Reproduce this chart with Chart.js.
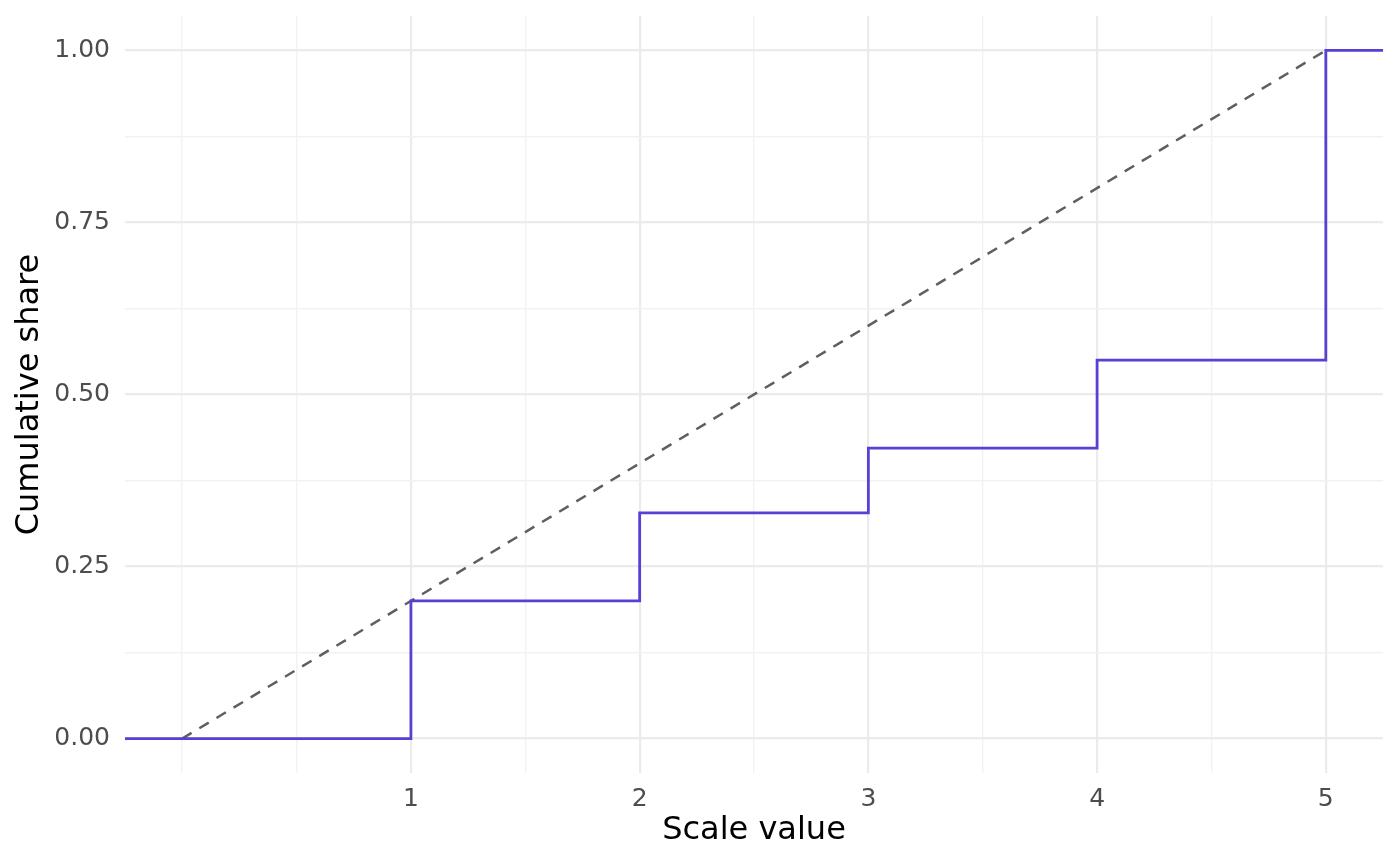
<!DOCTYPE html>
<html>
<head>
<meta charset="utf-8">
<script src="https://cdn.jsdelivr.net/npm/chart.js@4"></script>
<style>
  html, body { margin: 0; padding: 0; background: #fff; }
  #chart { display: block; }
</style>
</head>
<body>
<canvas id="chart" width="1400" height="865"></canvas>
<script>
// values
const scaleValues = [1, 2, 3, 4, 5];
const cumulativeShare = [0.2, 0.328, 0.422, 0.55, 1.0];
const referenceX = [0, 5];
const referenceY = [0, 1];

const xRange = [-0.25, 5.25];
const yRange = [-0.05, 1.05];
const xMajor = [1, 2, 3, 4, 5];
const xGrid = [0, 0.5, 1, 1.5, 2, 2.5, 3, 3.5, 4, 4.5, 5];
const yMajor = [0, 0.25, 0.5, 0.75, 1];
const yGrid = [0, 0.125, 0.25, 0.375, 0.5, 0.625, 0.75, 0.875, 1];

// ecdf runs from the left edge to the right edge of the panel
const stepPoints = [{ x: xRange[0], y: 0 }]
  .concat(scaleValues.map((v, i) => ({ x: v, y: cumulativeShare[i] })))
  .concat([{ x: xRange[1], y: cumulativeShare[cumulativeShare.length - 1] }]);
const refPoints = referenceX.map((v, i) => ({ x: v, y: referenceY[i] }));

const isMajor = (list, v) => list.some(m => Math.abs(m - v) < 1e-9);
const tickFont = { family: 'DejaVu Sans', size: 25 };
const titleFont = { family: 'DejaVu Sans', size: 32 };

new Chart(document.getElementById('chart'), {
  type: 'scatter',
  data: {
    datasets: [
      {
        data: stepPoints,
        showLine: true,
        stepped: 'before',
        borderColor: '#5B3FD4',
        borderWidth: 2.8,
        pointRadius: 0,
        fill: false
      },
      {
        data: refPoints,
        showLine: true,
        borderColor: '#5F5F5F',
        borderWidth: 2.5,
        borderDash: [11, 9],
        pointRadius: 0,
        fill: false
      }
    ]
  },
  options: {
    responsive: false,
    animation: false,
    layout: { padding: { top: 16, right: 17, left: 0, bottom: 0 } },
    plugins: { legend: { display: false }, tooltip: { enabled: false } },
    scales: {
      x: {
        type: 'linear',
        min: xRange[0],
        max: xRange[1],
        afterBuildTicks: s => { s.ticks = xGrid.map(v => ({ value: v })); },
        afterFit: s => { s.height = 92; s.paddingLeft = 0; s.paddingRight = 0; },
        border: { display: false },
        grid: {
          drawTicks: false,
          color: c => isMajor(xMajor, c.tick.value) ? '#EBEBEB' : '#F2F2F2',
          lineWidth: c => isMajor(xMajor, c.tick.value) ? 2.2 : 1.4
        },
        ticks: {
          autoSkip: false,
          maxRotation: 0,
          padding: 11,
          color: '#4D4D4D',
          font: tickFont,
          callback: v => isMajor(xMajor, v) ? String(v) : ''
        },
        title: {
          display: true,
          text: 'Scale value',
          color: '#000',
          font: titleFont,
          padding: { top: 0, bottom: 15 }
        }
      },
      y: {
        type: 'linear',
        min: yRange[0],
        max: yRange[1],
        afterBuildTicks: s => { s.ticks = yGrid.map(v => ({ value: v })); },
        afterFit: s => { s.width = 125; s.paddingTop = 0; s.paddingBottom = 0; },
        border: { display: false },
        grid: {
          drawTicks: false,
          color: c => isMajor(yMajor, c.tick.value) ? '#EBEBEB' : '#F2F2F2',
          lineWidth: c => isMajor(yMajor, c.tick.value) ? 2.2 : 1.4
        },
        ticks: {
          autoSkip: false,
          padding: 15,
          color: '#4D4D4D',
          font: tickFont,
          callback: v => isMajor(yMajor, v) ? v.toFixed(2) : ''
        },
        title: {
          display: true,
          text: 'Cumulative share',
          color: '#000',
          font: titleFont,
          padding: { top: 10, bottom: 0 }
        }
      }
    }
  }
});
</script>
</body>
</html>
